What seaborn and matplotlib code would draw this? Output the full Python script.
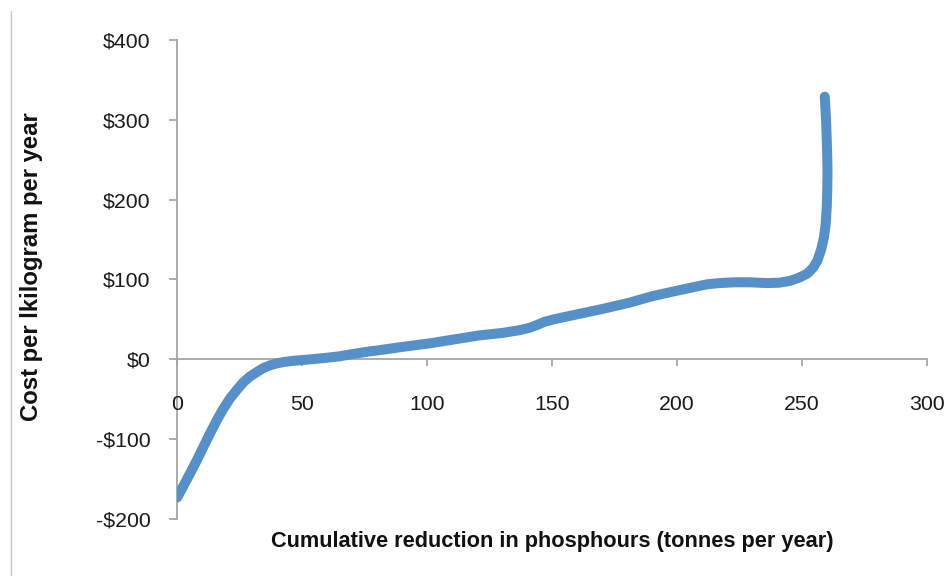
import matplotlib
matplotlib.use("Agg")
import matplotlib.pyplot as plt
from matplotlib.lines import Line2D
from matplotlib.ticker import FuncFormatter
import seaborn as sns
import pandas as pd

# Marginal abatement cost curve for phosphorus reduction
reduction_t = [0.1, 2.5, 5.2, 8, 10.5, 13, 15.9, 18.5, 21.2, 24, 26.6, 29.2,
               31.9, 34.5, 37.2, 40, 42.6, 46, 50.6, 55, 60, 65, 70, 76, 81,
               90, 101, 111, 121, 130, 137, 141, 144, 147, 150.6, 155, 161,
               170, 181, 190, 200, 206, 212, 217, 222.8, 229, 236, 241,
               245.5, 249, 252.2, 254.5, 256.2, 257.7, 258.8, 259.5, 259.9,
               260.1, 260.2, 260.1, 259.9, 259.6, 259.1]
cost_per_kg = [-173, -159, -143, -126, -110, -94, -76.5, -62, -49, -38,
               -28.5, -21.5, -16, -11, -7.5, -5, -3.4, -2, -0.8, 0.5, 2,
               3.8, 6.5, 9.5, 11.5, 15.5, 20, 25, 30, 33, 36.5, 39.5, 43,
               47, 50, 53, 57, 63, 71, 79, 86, 90, 94, 95.5, 96.5, 96.5,
               95.5, 96, 98.5, 102.5, 107.5, 115, 124, 138, 153, 170, 191,
               212, 233, 254, 275, 302, 329]

x_ticks = [0, 50, 100, 150, 200, 250, 300]
y_ticks = [-200, -100, 0, 100, 200, 300, 400]

df = pd.DataFrame({"reduction": reduction_t, "cost": cost_per_kg})

sns.set_theme(style="white")
plt.rcParams["font.family"] = ["Liberation Sans", "DejaVu Sans"]

fig = plt.figure(figsize=(9.46, 5.76), dpi=100)
ax = fig.add_axes([177 / 946, 1 - 519 / 576, 750 / 946, 479 / 576])

sns.lineplot(data=df, x="reduction", y="cost", ax=ax, sort=False,
             estimator=None, color="#5690c8", linewidth=7.2,
             solid_capstyle="round", solid_joinstyle="round")

ax.set_xlim(0, 300)
ax.set_ylim(-200, 400)
ax.set_xticks(x_ticks)
ax.set_yticks(y_ticks)
ax.yaxis.set_major_formatter(FuncFormatter(
    lambda v, _: f"-${abs(int(v))}" if v < 0 else f"${int(v)}"))

axis_grey = "#a6a6a6"
for side in ("top", "right"):
    ax.spines[side].set_visible(False)
ax.spines["left"].set_position(("data", 0))
ax.spines["bottom"].set_position(("data", 0))
for side in ("left", "bottom"):
    ax.spines[side].set_color(axis_grey)
    ax.spines[side].set_linewidth(1.3)
    ax.spines[side].set_zorder(0.5)

ax.tick_params(axis="y", direction="out", length=6, width=1.3,
               color=axis_grey, pad=13, labelsize=15.3, labelcolor="#1a1a1a",
               left=True)
ax.tick_params(axis="x", direction="out", length=5, width=1.3,
               color=axis_grey, pad=21, labelsize=15.3, labelcolor="#1a1a1a",
               bottom=True)
for lbl in ax.get_xticklabels():
    lbl.set_zorder(5)

ax.set_xlabel("Cumulative reduction in phosphours (tonnes per year)",
              fontsize=15.7, fontweight="bold", color="#111111")
ax.xaxis.set_label_coords(0.5, (519 - 541) / 479)
ax.xaxis.label.set_va("center")
ax.set_ylabel("Cost per lkilogram per year", fontsize=17.2,
              fontweight="bold", color="#111111")
ax.yaxis.set_label_coords((31 - 177) / 750, (519 - 267) / 479)
ax.yaxis.label.set_va("center")

# thin frame edge on the left of the figure
fig.add_artist(Line2D([11 / 946, 11 / 946], [0, 1 - 11 / 576],
                      transform=fig.transFigure, color="#c8c8c8",
                      linewidth=1.0))

fig.savefig("out.png", dpi=100, facecolor="white")
